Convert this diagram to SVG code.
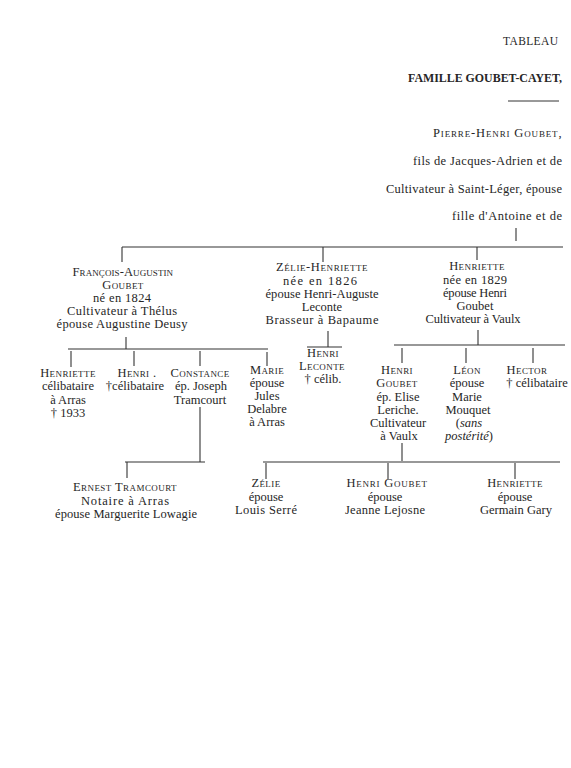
<svg xmlns="http://www.w3.org/2000/svg" width="571" height="768" viewBox="0 0 571 768">
<style>
text{font-family:"Liberation Serif","DejaVu Serif",serif;font-size:12.5px;fill:#262626;text-anchor:middle}
.sc{font-variant:small-caps;letter-spacing:0.4px}
.r{text-anchor:end}
.b{font-weight:bold}
.i{font-style:italic}
.c line{stroke:#333;stroke-width:1.1}
</style>
<rect width="571" height="768" fill="#fff"/>
<g id="header">
<text class="r" x="558" y="45" textLength="55" lengthAdjust="spacing" style="font-size:11.5px">TABLEAU</text>
<text class="r b" x="562" y="82" textLength="154" lengthAdjust="spacingAndGlyphs">FAMILLE GOUBET-CAYET,</text>
<line x1="508" y1="101" x2="559" y2="101" stroke="#333" stroke-width="1"/>
</g>
<g id="pierre-henri">
<text class="r sc" x="562" y="137" textLength="129" lengthAdjust="spacing">Pierre-Henri Goubet,</text>
<text class="r" x="562" y="165" textLength="149" lengthAdjust="spacing">fils de Jacques-Adrien et de</text>
<text class="r" x="562" y="193" textLength="176" lengthAdjust="spacing">Cultivateur à Saint-Léger, épouse</text>
<text class="r" x="562" y="220" textLength="110" lengthAdjust="spacing">fille d'Antoine et de</text>
</g>
<g id="francois-augustin">
<text class="sc" x="123" y="276" textLength="101" lengthAdjust="spacing">François-Augustin</text>
<text class="sc" x="123" y="289">Goubet</text>
<text x="122" y="302" textLength="58" lengthAdjust="spacing">né en 1824</text>
<text x="122" y="315" textLength="110" lengthAdjust="spacing">Cultivateur à Thélus</text>
<text x="122" y="328" textLength="131" lengthAdjust="spacing">épouse Augustine Deusy</text>
</g>
<g id="zelie-henriette">
<text class="sc" x="322" y="271" textLength="92" lengthAdjust="spacing">Zélie-Henriette</text>
<text x="320" y="285" textLength="74" lengthAdjust="spacing">née en 1826</text>
<text x="322" y="298" textLength="113" lengthAdjust="spacing">épouse Henri-Auguste</text>
<text x="322" y="311">Leconte</text>
<text x="322" y="324" textLength="113" lengthAdjust="spacing">Brasseur à Bapaume</text>
</g>
<g id="henriette-1829">
<text class="sc" x="477" y="270">Henriette</text>
<text x="475" y="284" textLength="64" lengthAdjust="spacing">née en 1829</text>
<text x="475" y="297" textLength="64" lengthAdjust="spacing">épouse Henri</text>
<text x="475" y="310">Goubet</text>
<text x="473" y="323" textLength="95" lengthAdjust="spacing">Cultivateur à Vaulx</text>
</g>
<g id="henriette-celib">
<text class="sc" x="68" y="377">Henriette</text>
<text x="68" y="390">célibataire</text>
<text x="68" y="404">à Arras</text>
<text x="68" y="417">† 1933</text>
</g>
<g id="henri-celib">
<text class="sc" x="137" y="377">Henri .</text>
<text x="135" y="390">†célibataire</text>
</g>
<g id="constance">
<text class="sc" x="200" y="377">Constance</text>
<text x="201" y="390">ép. Joseph</text>
<text x="200" y="404">Tramcourt</text>
</g>
<g id="ernest">
<text class="sc" x="125" y="491" textLength="104" lengthAdjust="spacing">Ernest Tramcourt</text>
<text x="125" y="505" textLength="88" lengthAdjust="spacing">Notaire à Arras</text>
<text x="126" y="518" textLength="142" lengthAdjust="spacing">épouse Marguerite Lowagie</text>
</g>
<g id="marie-delabre">
<text class="sc" x="267" y="374">Marie</text>
<text x="267" y="387">épouse</text>
<text x="267" y="400">Jules</text>
<text x="267" y="413">Delabre</text>
<text x="267" y="426">à Arras</text>
</g>
<g id="henri-leconte">
<text class="sc" x="323" y="357">Henri</text>
<text class="sc" x="322" y="370">Leconte</text>
<text x="323" y="383">† célib.</text>
</g>
<g id="henri-goubet">
<text class="sc" x="397" y="374">Henri</text>
<text class="sc" x="397" y="387">Goubet</text>
<text x="398" y="401">ép. Elise</text>
<text x="398" y="414">Leriche.</text>
<text x="398" y="427">Cultivateur</text>
<text x="399" y="440">à Vaulx</text>
</g>
<g id="leon">
<text class="sc" x="467" y="374">Léon</text>
<text x="467" y="387">épouse</text>
<text x="467" y="401">Marie</text>
<text x="468" y="414">Mouquet</text>
<text x="469" y="427">(<tspan class="i">sans</tspan></text>
<text x="469" y="440"><tspan class="i">postérité</tspan>)</text>
</g>
<g id="hector">
<text class="sc" x="527" y="374">Hector</text>
<text x="537" y="387">† célibataire</text>
</g>
<g id="zelie-serre">
<text class="sc" x="266" y="487">Zélie</text>
<text x="266" y="501">épouse</text>
<text x="266" y="514" textLength="62" lengthAdjust="spacing">Louis  Serré</text>
</g>
<g id="henri-goubet-lejosne">
<text class="sc" x="387" y="487" textLength="81" lengthAdjust="spacing">Henri  Goubet</text>
<text x="385" y="501">épouse</text>
<text x="385" y="514" textLength="80" lengthAdjust="spacing">Jeanne Lejosne</text>
</g>
<g id="henriette-gary">
<text class="sc" x="515" y="487">Henriette</text>
<text x="515" y="501">épouse</text>
<text x="516" y="514" textLength="72" lengthAdjust="spacing">Germain  Gary</text>
</g>
<g id="connectors" class="c">
<line x1="516" y1="228" x2="516" y2="241"/>
<line x1="122" y1="247" x2="563" y2="247"/>
<line x1="122" y1="247" x2="122" y2="262"/>
<line x1="323" y1="247" x2="323" y2="262"/>
<line x1="477" y1="247" x2="477" y2="260"/>
<line x1="126" y1="337" x2="126" y2="349"/>
<line x1="68" y1="349" x2="268" y2="349"/>
<line x1="71" y1="351" x2="71" y2="367"/>
<line x1="134" y1="351" x2="134" y2="366"/>
<line x1="200" y1="351" x2="200" y2="366"/>
<line x1="267" y1="352" x2="267" y2="366"/>
<line x1="328" y1="331" x2="328" y2="347"/>
<line x1="307" y1="347" x2="342" y2="347"/>
<line x1="478" y1="330" x2="478" y2="345"/>
<line x1="394" y1="345" x2="565" y2="345"/>
<line x1="402" y1="348" x2="402" y2="363"/>
<line x1="466" y1="348" x2="466" y2="363"/>
<line x1="533" y1="348" x2="533" y2="363"/>
<line x1="200" y1="407" x2="200" y2="462"/>
<line x1="125" y1="462" x2="205" y2="462"/>
<line x1="127" y1="462" x2="127" y2="478"/>
<line x1="402" y1="443" x2="402" y2="461"/>
<line x1="263" y1="462" x2="560" y2="462"/>
<line x1="266" y1="463" x2="266" y2="479"/>
<line x1="388" y1="463" x2="388" y2="479"/>
<line x1="515" y1="463" x2="515" y2="479"/>
</g>
</svg>
